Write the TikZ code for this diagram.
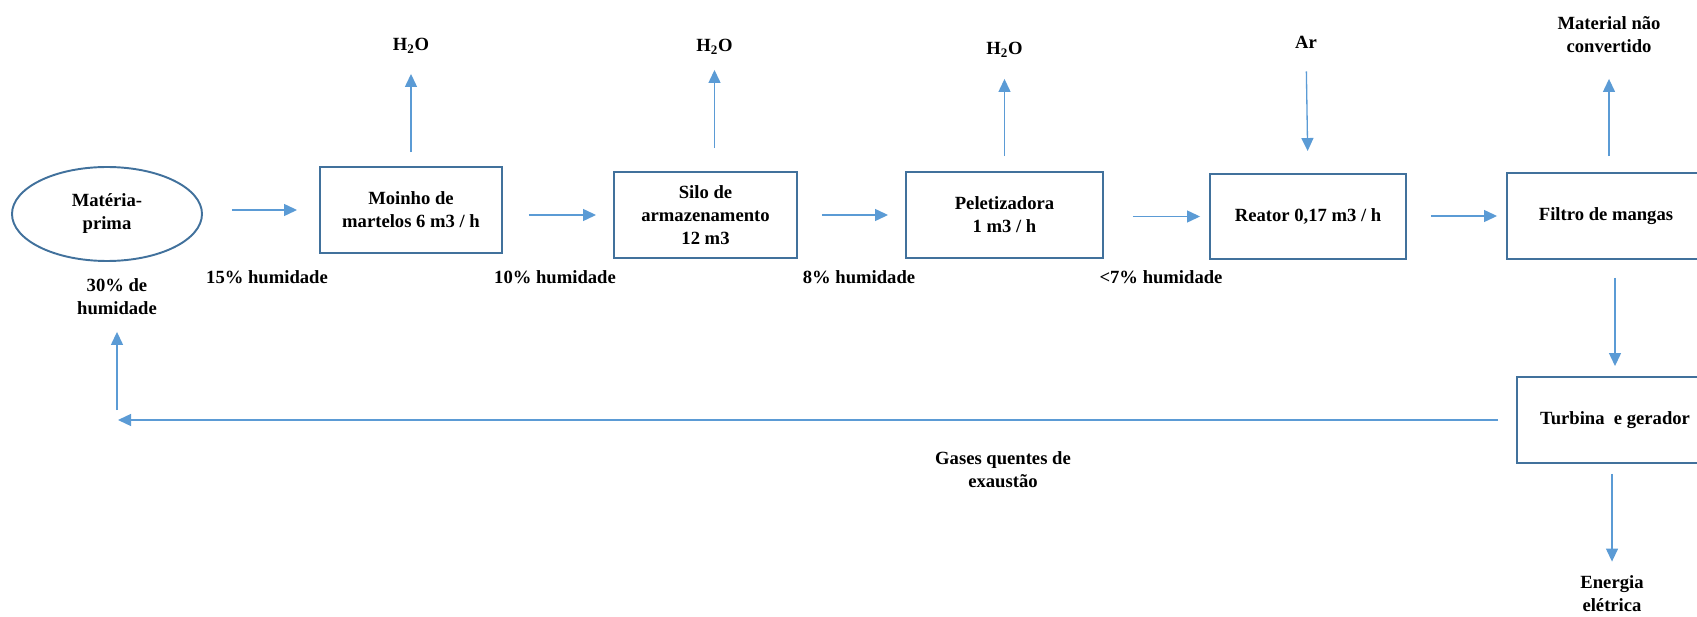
\documentclass[tikz,border=0pt]{standalone}
\usepackage{fontspec}
\setmainfont{Liberation Serif}
\usetikzlibrary{arrows.meta,shapes.geometric}
\definecolor{steel}{HTML}{41719C}
\definecolor{skyblue}{HTML}{5B9BD5}

\begin{document}
\begin{tikzpicture}[font=\fontsize{10.6}{13.1}\selectfont\bfseries,
  every node/.style={text=black,align=center,inner sep=0pt},
  box/.style={draw=steel,line width=1.1pt,minimum height=1.72cm},
  flow/.style={draw=skyblue,line width=.75pt,-{Triangle[length=.26cm,width=.24cm]}}]
\useasboundingbox (0,0) rectangle (33.94,12.32);
\clip (0,0) rectangle (33.94,12.32);
% process line
\node[box,ellipse,minimum width=3.8cm,minimum height=1.88cm] (mp) at (2.14,8.04) {Matéria-\\prima};
\node[box,minimum width=3.64cm] (moinho) at (8.22,8.12) {Moinho de\\martelos 6 m3 / h};
\node[box,minimum width=3.66cm] (silo) at (14.11,8.02) {Silo de\\armazenamento\\12 m3};
\node[box,minimum width=3.94cm] (pelet) at (20.09,8.02) {Peletizadora\\1 m3 / h};
\node[box,minimum width=3.92cm,minimum height=1.70cm] (reator) at (26.16,7.99) {Reator 0,17 m3 / h};
\node[box,minimum width=3.96cm] (filtro) at (32.12,8.00) {Filtro de mangas};
\node[box,minimum width=3.92cm] (turbina) at (32.30,3.92) {Turbina~ e gerador};
% streams in and out
\node (h2oA) at (8.22,11.40) {H\textsubscript{2}O};
\node (h2oB) at (14.29,11.38) {H\textsubscript{2}O};
\node (h2oC) at (20.09,11.32) {H\textsubscript{2}O};
\node (ar) at (26.12,11.48) {Ar};
\node (naoconv) at (32.18,11.63) {Material não\\convertido};
\node (energia) at (32.24,0.44) {Energia\\elétrica};
\node (hum30) at (2.34,6.39) {30\% de\\humidade};
\foreach \x/\pct/\nm in {5.34/15\%/hum15,11.10/10\%/hum10,17.18/8\%/hum8,23.22/<7\%/hum7}{
  \node (\nm) at (\x,6.78) {\pct\ humidade};
}
\node (gases) at (20.06,2.93) {Gases quentes de\\exaustão};
\coordinate (retorno) at (2.36,3.92);
% connectors
\foreach \a/\b/\s/\e in {mp/moinho/.58cm/.44cm,moinho/silo/.52cm/.34cm,silo/pelet/.48cm/.34cm,pelet/reator/.58cm/.18cm,reator/filtro/.48cm/.18cm}{
  \draw[flow,shorten <=\s,shorten >=\e] (\a.east |- \b.west) -- (\b.west);
}
\foreach \a/\b/\s/\e in {moinho/h2oA/.28cm/.40cm,silo/h2oB/.46cm/.30cm,pelet/h2oC/.30cm/.42cm,filtro/naoconv/.32cm/.52cm}{
  \draw[flow,shorten <=\s,shorten >=\e] (\a.north -| \b.south) -- (\b.south);
}
\draw[flow,shorten <=.46cm,shorten >=.44cm] (ar.south) -- (reator.north);
\draw[flow,shorten <=.36cm,shorten >=.20cm] (filtro.south -| turbina.north) -- (turbina.north);
\draw[flow,shorten <=.20cm,shorten >=.28cm] (turbina.south -| energia.north) -- (energia.north);
% hot exhaust back to the raw material
\draw[flow,shorten <=.36cm] (turbina.west) -- (retorno);
\draw[flow,shorten <=.20cm,shorten >=.34cm] (retorno -| hum30.south) -- (hum30.south);
\end{tikzpicture}
\end{document}
